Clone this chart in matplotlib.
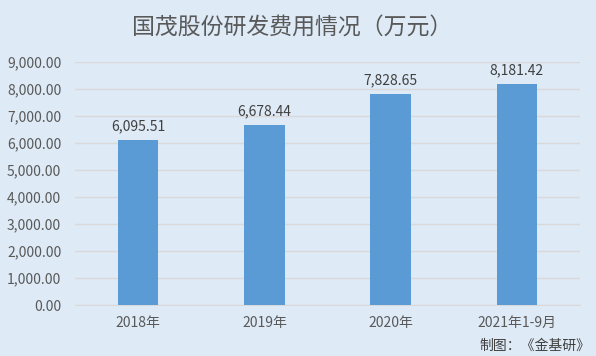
import matplotlib.pyplot as plt

plt.rcParams['font.family'] = ['Noto Sans CJK SC', 'DejaVu Sans']

categories = ['2018年', '2019年', '2020年', '2021年1-9月']
values = [6095.51, 6678.44, 7828.65, 8181.42]
yticks = [0, 1000, 2000, 3000, 4000, 5000, 6000, 7000, 8000, 9000]

bg = '#DEEAF6'
fig = plt.figure(figsize=(5.96, 3.56), dpi=100, facecolor=bg)
ax = fig.add_axes([0.126, 0.143, 0.847, 0.683], facecolor=bg)

x = range(len(categories))
bars = ax.bar(x, values, width=0.32, color='#5B9BD5', zorder=3)
for xi, v in zip(x, values):
    ax.text(xi, v + 250, f'{v:,.2f}', ha='center', va='bottom', fontsize=10, color='#404040')

ax.set_xlim(-0.5, len(categories) - 0.5)
ax.set_ylim(0, 9000)
ax.set_yticks(yticks)
ax.set_yticklabels([f'{t:,.2f}' for t in yticks])
ax.set_xticks(list(x))
ax.set_xticklabels(categories)
ax.tick_params(axis='both', length=0, labelsize=10, labelcolor='#595959')
ax.tick_params(axis='y', pad=10)
ax.tick_params(axis='x', pad=8)
ax.grid(axis='y', color='#D9D9D9', linewidth=1, zorder=0)
for s in ['top', 'right', 'left']:
    ax.spines[s].set_visible(False)
ax.spines['bottom'].set_color('#D9D9D9')

fig.text(0.49, 0.925, '国茂股份研发费用情况（万元）', ha='center', va='center', fontsize=16.5,
         color='#595959', fontweight='light')
fig.text(0.99, 0.03, '制图：《金基研》', ha='right', va='center', fontsize=10, color='#404040')

fig.savefig('out.png', dpi=100, facecolor=bg)
